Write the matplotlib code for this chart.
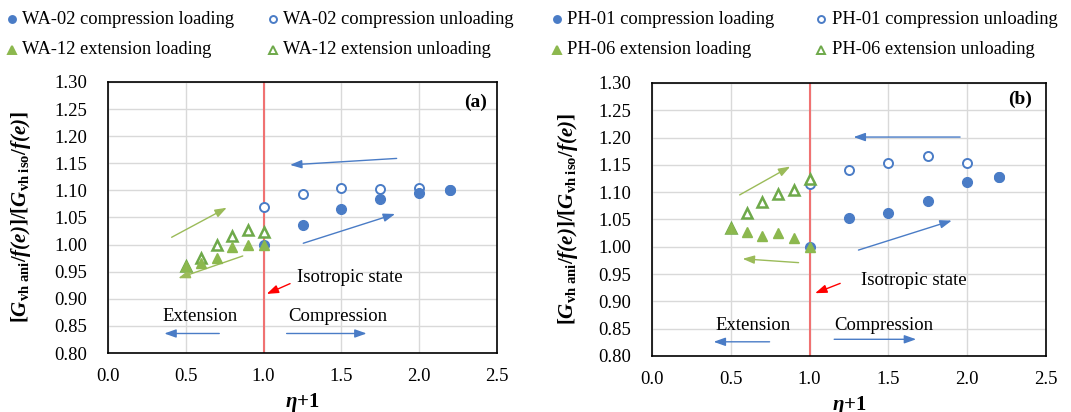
import numpy as np
import matplotlib
matplotlib.use("Agg")
import matplotlib.pyplot as plt
from matplotlib.lines import Line2D

# ==========================================================
# DONNÉES
# ==========================================================

# (a) WA-02 / WA-12
a_comp_load_x = [1.0, 1.25, 1.5, 1.75, 2.0, 2.2]
a_comp_load_y = [1.000, 1.036, 1.066, 1.085, 1.096, 1.100]
a_comp_unload_x = [2.2, 2.0, 1.75, 1.5, 1.25, 1.0]
a_comp_unload_y = [1.100, 1.105, 1.103, 1.105, 1.094, 1.069]
a_ext_load_x = [1.0, 0.9, 0.8, 0.7, 0.6, 0.5]
a_ext_load_y = [1.000, 1.000, 0.995, 0.975, 0.966, 0.960]
a_ext_unload_x = [0.5, 0.6, 0.7, 0.8, 0.9, 1.0]
a_ext_unload_y = [0.961, 0.976, 1.000, 1.015, 1.027, 1.023]

# (b) PH-01 / PH-06
b_comp_load_x = [1.0, 1.25, 1.5, 1.75, 2.0, 2.2]
b_comp_load_y = [1.000, 1.052, 1.062, 1.084, 1.118, 1.128]
b_comp_unload_x = [2.2, 2.0, 1.75, 1.5, 1.25, 1.0]
b_comp_unload_y = [1.128, 1.153, 1.166, 1.153, 1.140, 1.115]
b_ext_load_x = [1.0, 0.9, 0.8, 0.7, 0.6, 0.5]
b_ext_load_y = [1.000, 1.016, 1.026, 1.020, 1.027, 1.035]
b_ext_unload_x = [0.5, 0.6, 0.7, 0.8, 0.9, 1.0]
b_ext_unload_y = [1.035, 1.062, 1.082, 1.096, 1.104, 1.125]

labels_a = ["WA-02 compression loading", "WA-02 compression unloading",
            "WA-12 extension loading", "WA-12 extension unloading"]
labels_b = ["PH-01 compression loading", "PH-01 compression unloading",
            "PH-06 extension loading", "PH-06 extension unloading"]

# ==========================================================
# STYLE
# ==========================================================

plt.rcParams["font.family"] = ["Liberation Serif", "DejaVu Serif"]
plt.rcParams["mathtext.fontset"] = "custom"
plt.rcParams["mathtext.rm"] = "Liberation Serif"
plt.rcParams["mathtext.it"] = "Liberation Serif:italic"
plt.rcParams["mathtext.bf"] = "Liberation Serif:bold"
plt.rcParams["mathtext.bfit"] = "Liberation Serif:italic:bold"

BLUE = "#4A7CC6"
GREEN_FILL = "#8CB84E"
GREEN_EDGE = "#6EA94A"
GREEN_ARROW = "#9BBB59"
RED_LINE = "#F07272"

YLABEL = (r"$\mathbf{[}\mathbfit{G}_{\mathbf{vh\ ani}}\mathbf{/}\mathbfit{f(e)}\mathbf{]/[}"
          r"\mathbfit{G}_{\mathbf{vh\ iso}}\mathbf{/}\mathbfit{f(e)}\mathbf{]}$")
XLABEL = r"$\mathbfit{\eta}\mathbf{+1}$"

FS = 13.5


def arrow(ax, start, end, color, lw=1.0):
    ax.annotate("", xy=end, xytext=start,
                arrowprops=dict(arrowstyle="-|>,head_length=0.7,head_width=0.25",
                                color=color, lw=lw, shrinkA=0, shrinkB=0))


def panel(ax, cl, cu, el, eu, tag, arrows, txt):
    ax.set_xlim(0, 2.5)
    ax.set_ylim(0.80, 1.30)
    xt = np.arange(0, 2.51, 0.5)
    yt = np.arange(0.80, 1.301, 0.05)
    ax.set_xticks(xt)
    ax.set_yticks(yt)
    ax.set_xticklabels([f"{v:.1f}" for v in xt])
    ax.set_yticklabels([f"{v:.2f}" for v in yt])
    ax.tick_params(axis="y", length=0, labelsize=FS, pad=15)
    ax.tick_params(axis="x", length=0, labelsize=FS, pad=11)
    ax.grid(True, color="#D9D9D9", lw=1.0)
    ax.set_axisbelow(True)
    for s in ax.spines.values():
        s.set_color("black")
        s.set_linewidth(1.2)

    ax.axvline(1.0, color=RED_LINE, lw=1.5, zorder=2)

    h1, = ax.plot(cl[0], cl[1], "o", ms=7, color=BLUE, ls="none", zorder=4)
    h2, = ax.plot(cu[0], cu[1], "o", ms=6.5, mfc="white", mec=BLUE, mew=1.4, ls="none", zorder=3)
    h3, = ax.plot(el[0], el[1], "^", ms=7, color=GREEN_FILL, ls="none", zorder=4)
    h4, = ax.plot(eu[0], eu[1], "^", ms=6.5, mfc="white", mec=GREEN_EDGE, mew=1.8, ls="none", zorder=3)

    for (s, e, c) in arrows:
        arrow(ax, s, e, c)

    ax.text(txt["tag"][0], txt["tag"][1], tag, ha="right", va="center",
            fontsize=FS + 0.5, fontweight="bold")
    ax.text(txt["iso"][0], txt["iso"][1], "Isotropic state", ha="left", va="center", fontsize=FS)
    ax.text(txt["ext"][0], txt["ext"][1], "Extension", ha="left", va="center", fontsize=FS)
    ax.text(txt["comp"][0], txt["comp"][1], "Compression", ha="left", va="center", fontsize=FS)

    ax.set_ylabel(YLABEL, fontsize=15)
    ax.set_xlabel(XLABEL, fontsize=15, labelpad=4)
    return [h1, h2, h3, h4]


W, H = 1071, 412
fig = plt.figure(figsize=(W / 100, H / 100), dpi=100)
ax_a = fig.add_axes([108 / W, 1 - 353 / H, 389 / W, 271 / H])
ax_b = fig.add_axes([652 / W, 1 - 356 / H, 394 / W, 273 / H])

arrows_a = [
    ((1.855, 1.159), (1.17, 1.147), BLUE),
    ((1.255, 1.0025), (1.845, 1.0565), BLUE),
    ((0.409, 1.0135), (0.763, 1.068), GREEN_ARROW),
    ((0.866, 0.979), (0.452, 0.938), GREEN_ARROW),
    ((1.17, 0.928), (1.02, 0.909), "red"),
    ((0.715, 0.836), (0.362, 0.836), BLUE),
    ((1.148, 0.836), (1.662, 0.836), BLUE),
]
txt_a = {"tag": (2.434, 1.263), "iso": (1.213, 0.940), "ext": (0.349, 0.8675), "comp": (1.159, 0.8675)}

arrows_b = [
    ((1.955, 1.201), (1.279, 1.201), BLUE),
    ((1.310, 0.994), (1.902, 1.048), BLUE),
    ((0.556, 1.095), (0.877, 1.147), GREEN_ARROW),
    ((0.930, 0.971), (0.575, 0.978), GREEN_ARROW),
    ((1.194, 0.933), (1.035, 0.915), "red"),
    ((0.746, 0.826), (0.391, 0.826), BLUE),
    ((1.156, 0.8306), (1.676, 0.8306), BLUE),
]
txt_b = {"tag": (2.409, 1.2707), "iso": (1.325, 0.938), "ext": (0.40, 0.8556), "comp": (1.156, 0.8556)}

ha = panel(ax_a, (a_comp_load_x, a_comp_load_y), (a_comp_unload_x, a_comp_unload_y),
           (a_ext_load_x, a_ext_load_y), (a_ext_unload_x, a_ext_unload_y), "(a)", arrows_a, txt_a)
hb = panel(ax_b, (b_comp_load_x, b_comp_load_y), (b_comp_unload_x, b_comp_unload_y),
           (b_ext_load_x, b_ext_load_y), (b_ext_unload_x, b_ext_unload_y), "(b)", arrows_b, txt_b)

ax_a.yaxis.set_label_coords(-0.193, 0.5)
ax_b.yaxis.set_label_coords(-0.183, 0.5)


# legende manuelle (2 x 2) au-dessus de chaque panneau
def legende(handles, labels, x_marks, x_texts, rows=(19, 50)):
    for i, (h, lab) in enumerate(zip(handles, labels)):
        r, c = divmod(i, 2)
        y = 1 - rows[r] / H
        ms = 5 if h.get_marker() == "o" else 6
        fig.add_artist(Line2D([x_marks[c] / W], [y], transform=fig.transFigure, ls="none",
                              marker=h.get_marker(), ms=ms, mfc=h.get_markerfacecolor(),
                              mec=h.get_markeredgecolor(), mew=1.4))
        fig.text(x_texts[c] / W, y, lab, ha="left", va="center", fontsize=13.3)


legende(ha, labels_a, (12, 273), (22, 283))
legende(hb, labels_b, (557, 821), (567, 832))

fig.savefig("out.png", dpi=100)
